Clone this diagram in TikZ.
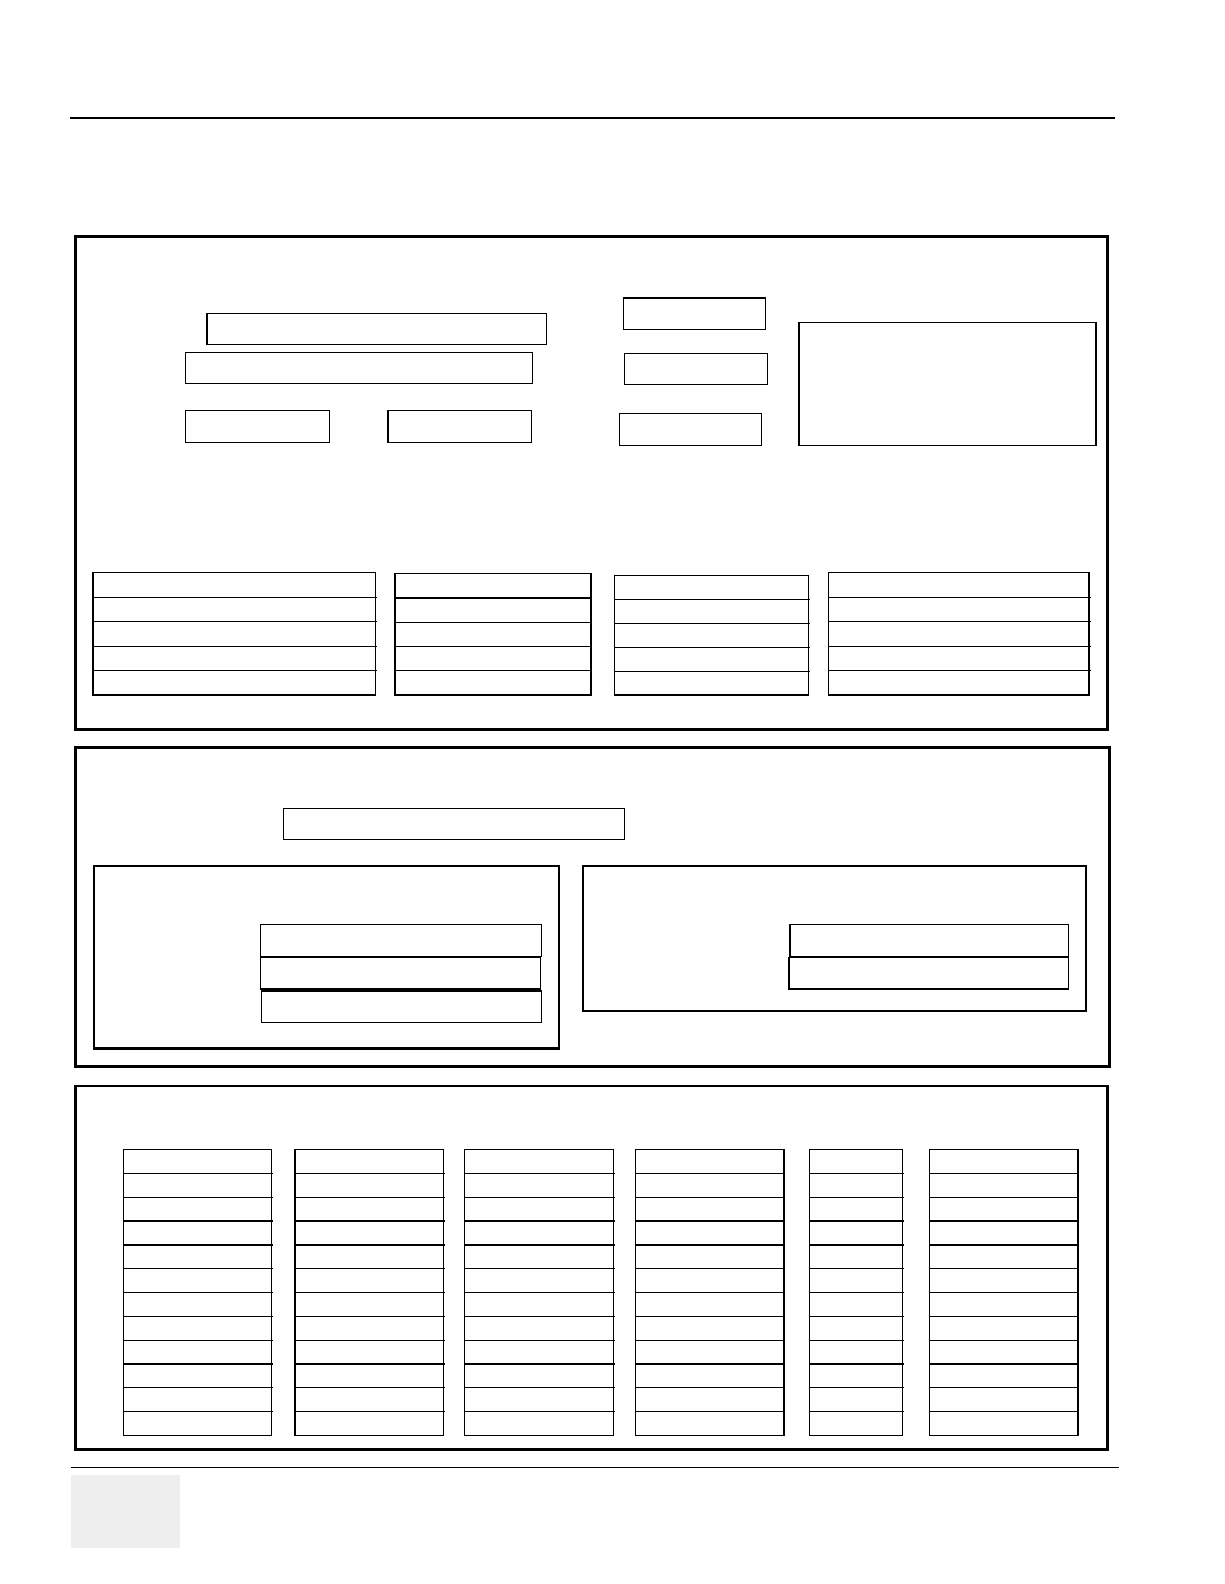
\documentclass[tikz,border=0pt]{standalone}
\usetikzlibrary{calc}
\definecolor{tabgrey}{RGB}{238,238,238}
\newcommand\bx[6]{%
  \pgfmathsetmacro\bxw{#5-#3}\pgfmathsetmacro\bxh{#6-#4}%
  \node[#1,anchor=north west,minimum width=\bxw pt,minimum height=\bxh pt] (#2) at (#3,#4) {};}
\newcommand\tb[6]{%
  \bx{box}{#1}{#2}{#3}{#4}{#5}%
  \pgfmathtruncatemacro\tbn{#6-1}%
  \foreach \i in {1,...,\tbn}{%
    \draw[rule] ($(#1.north west)!\i/#6!(#1.south west)$) -- ($(#1.north east)!\i/#6!(#1.south east)+(1.5,0)$);}}
\begin{document}
\begin{tikzpicture}[x=1pt,y=-1pt,
  panel/.style={draw,line width=2.6pt,inner sep=0pt,outer sep=0pt},
  sub/.style={draw,line width=2.2pt,inner sep=0pt,outer sep=0pt},
  box/.style={draw,line width=1.2pt,inner sep=0pt,outer sep=0pt},
  rule/.style={line width=1.2pt},
  tag/.style={fill=tabgrey,inner sep=0pt,outer sep=0pt}]
\useasboundingbox[fill=white] (0,0) rectangle (1212,1568);
% header and footer rules
\coordinate (ht1) at (69,117);
\coordinate (ht2) at (1104,117);
\draw[line width=2pt] (ht1) -- (ht2);
\coordinate (ft1) at (70,1453);
\coordinate (ft2) at (1108,1453);
\draw[line width=1pt] (ft1) -- (ft2);
\bx{tag}{tab}{70}{1460}{178}{1532}
% panel 1
\bx{panel}{p1}{75}{234}{1096}{722}
\bx{box}{a}{205}{310}{541}{341}
\bx{box}{b}{184}{349}{527}{380}
\bx{box}{c}{184}{406}{326}{438}
\bx{box}{d}{384}{406}{526}{438}
\bx{box}{e}{617}{295}{758}{326}
\bx{box}{f}{618}{350}{760}{381}
\bx{box}{g}{613}{409}{754}{441}
\bx{box}{h}{791}{319}{1085}{441}
\tb{ta}{92}{567}{372}{688}{5}
\tb{tbb}{391}{568}{585}{688}{5}
\tb{tc}{608}{570}{800}{688}{5}
\tb{td}{820}{567}{1078}{688}{5}
% panel 2
\bx{panel}{p2}{75}{740}{1098}{1056}
\bx{box}{i}{281}{800}{618}{831}
\bx{sub}{sl}{93}{857}{553}{1038}
\bx{box}{j1}{258}{915}{536}{947}
\bx{box}{j2}{258}{948}{535}{979}
\bx{box}{j3}{259}{981}{536}{1012}
\bx{sub}{sr}{577}{857}{1075}{1001}
\bx{box}{k1}{782}{915}{1058}{947}
\bx{box}{k2}{781}{948}{1058}{979}
% panel 3
\bx{panel}{p3}{75}{1075}{1096}{1435}
\tb{c1}{122}{1138}{269}{1421}{12}
\tb{c2}{292}{1138}{439}{1421}{12}
\tb{c3}{460}{1138}{607}{1421}{12}
\tb{c4}{629}{1138}{776}{1421}{12}
\tb{c5}{801}{1138}{893}{1421}{12}
\tb{c6}{920}{1138}{1067}{1421}{12}
\end{tikzpicture}
\end{document}
